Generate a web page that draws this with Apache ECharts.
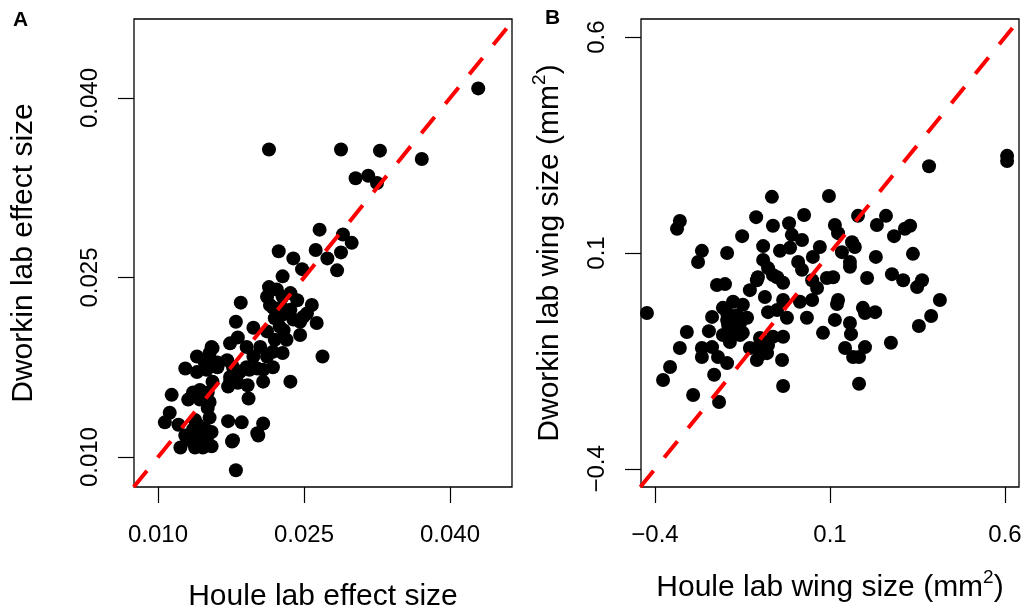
<!DOCTYPE html>
<html>
<head>
<meta charset="utf-8">
<script src="https://cdn.jsdelivr.net/npm/echarts@6/dist/echarts.min.js"></script>
<style>html,body{margin:0;padding:0;background:#fff}#c{width:1024px;height:608px}</style>
</head>
<body>
<div id="c"></div>
<script>
// Panel A: effect sizes
const houleA = [0.0429,0.0214,0.0288,0.0328,0.0371,0.0303,0.0316,0.0325,0.0266,0.0262,0.0274,0.0290,0.0299,0.0288,0.0284,0.0224,0.0239,0.0248,0.0228,0.0214,0.0212,0.0222,0.0228,0.0236,0.0243,0.0258,0.0215,0.0185,0.0180,0.0198,0.0212,0.0225,0.0239,0.0236,0.0263,0.0246,0.0253,0.0269,0.0182,0.0174,0.0156,0.0153,0.0140,0.0191,0.0205,0.0198,0.0212,0.0218,0.0228,0.0140,0.0150,0.0161,0.0177,0.0191,0.0202,0.0208,0.0218,0.0236,0.0208,0.0192,0.0182,0.0174,0.0156,0.0143,0.0136,0.0114,0.0131,0.0155,0.0171,0.0161,0.0184,0.0194,0.0174,0.0172,0.0151,0.0143,0.0153,0.0193,0.0112,0.0107,0.0121,0.0138,0.0153,0.0151,0.0172,0.0186,0.0208,0.0203,0.0136,0.0145,0.0133,0.0150,0.0123,0.0138,0.0146,0.0155,0.0177,0.0180,0.0176,0.0202,0.0141,0.0148,0.0128,0.0141,0.0155,0.0143,0.0148,0.0128,0.0220,0.0232,0.0228,0.0220,0.0218,0.0227,0.0249,0.0229,0.0246];
const dworkinA = [0.0408,0.0357,0.0357,0.0356,0.0349,0.0333,0.0335,0.0329,0.0290,0.0273,0.0266,0.0286,0.0279,0.0271,0.0256,0.0272,0.0266,0.0257,0.0251,0.0242,0.0234,0.0240,0.0234,0.0237,0.0231,0.0227,0.0227,0.0229,0.0213,0.0208,0.0205,0.0209,0.0215,0.0223,0.0212,0.0202,0.0220,0.0184,0.0200,0.0195,0.0191,0.0187,0.0184,0.0192,0.0192,0.0184,0.0184,0.0188,0.0187,0.0171,0.0173,0.0175,0.0175,0.0175,0.0174,0.0173,0.0175,0.0163,0.0163,0.0160,0.0162,0.0163,0.0163,0.0156,0.0154,0.0152,0.0148,0.0192,0.0181,0.0179,0.0171,0.0173,0.0167,0.0159,0.0154,0.0148,0.0146,0.0149,0.0137,0.0129,0.0127,0.0131,0.0133,0.0141,0.0130,0.0129,0.0128,0.0118,0.0123,0.0120,0.0114,0.0114,0.0108,0.0108,0.0108,0.0109,0.0114,0.0089,0.0113,0.0120,0.0127,0.0124,0.0118,0.0117,0.0121,0.0110,0.0179,0.0174,0.0198,0.0198,0.0219,0.0216,0.0225,0.0225,0.0217,0.0206,0.0213];

// Panel B: wing sizes (mm^2)
const houleB = [0.606,0.606,0.383,-0.066,0.097,-0.423,-0.329,-0.337,-0.111,-0.063,-0.017,0.026,-0.151,-0.091,-0.009,0.020,-0.043,-0.014,0.071,-0.266,-0.277,-0.194,-0.091,-0.077,-0.051,-0.034,0.009,0.020,0.051,0.049,0.063,-0.109,-0.129,-0.223,-0.200,0.091,0.180,0.260,0.234,0.114,0.123,0.283,0.314,0.329,0.163,0.171,0.134,0.157,0.157,0.231,0.337,0.109,0.206,0.277,0.309,0.363,0.349,0.123,0.414,0.120,0.194,0.200,0.229,0.389,0.354,0.114,0.157,0.160,0.080,0.143,0.166,0.183,0.200,0.274,0.183,-0.034,-0.177,-0.149,-0.206,-0.166,-0.137,-0.237,-0.191,-0.166,-0.206,-0.157,-0.186,-0.086,-0.077,-0.051,-0.023,0.034,-0.034,0.014,0.049,-0.309,-0.246,-0.329,-0.266,-0.237,-0.266,-0.220,-0.194,-0.100,-0.063,-0.034,-0.129,-0.106,-0.077,-0.100,-0.080,-0.109,-0.037,-0.357,-0.377,-0.231,-0.291,-0.217,-0.149,-0.194,-0.106,-0.063,-0.194,-0.157,-0.177];
const dworkinB = [0.325,0.313,0.301,0.230,0.232,-0.039,0.174,0.156,0.183,0.163,0.169,0.188,0.139,0.116,0.142,0.130,0.105,0.112,0.114,0.105,0.079,0.100,0.084,0.065,0.044,0.031,0.079,0.061,0.091,0.037,0.019,0.037,0.014,0.026,0.028,0.042,0.186,0.186,0.165,0.165,0.146,0.139,0.156,0.163,0.125,0.114,0.102,0.079,0.068,0.091,0.098,0.044,0.042,0.051,0.037,0.037,0.021,-0.009,-0.009,-0.018,-0.027,-0.039,-0.037,-0.046,-0.069,-0.055,-0.062,-0.088,-0.085,-0.120,-0.141,-0.141,-0.118,-0.108,-0.203,-0.208,-0.013,-0.020,-0.027,-0.044,-0.050,-0.048,-0.067,-0.074,-0.090,-0.090,-0.106,-0.002,-0.037,-0.032,-0.050,-0.050,-0.009,-0.013,-0.009,-0.083,-0.081,-0.120,-0.120,-0.118,-0.141,-0.141,-0.155,-0.097,-0.094,-0.094,-0.120,-0.118,-0.113,-0.136,-0.132,-0.148,-0.148,-0.164,-0.194,-0.182,-0.229,-0.245,-0.085,-0.039,0.044,0.049,-0.055,-0.062,-0.083];

// Tick values and labels
const ticksA = [0.010, 0.025, 0.040];
const ticksB = [-0.4, 0.1, 0.6];
// Identity (y = x) reference lines
const refLineA = [[0.0075, 0.0075], [0.05, 0.05]];
const refLineB = [[-0.442, -0.442], [0.7, 0.7]];

const FONT = "'Liberation Sans', Arial, Helvetica, sans-serif";
const zipPts = (xs, ys) => xs.map((x, i) => [x, ys[i]]);
const fmtA = v => v.toFixed(3);
const fmtB = v => v.toFixed(1).replace('-', '\u2212');

function xAxisDef(grid, min, max, ticks, fmt, name, gap, rich) {
  return {
    type: 'value', gridIndex: grid, min: min, max: max,
    splitLine: {show: false}, axisLine: {show: false, onZero: false},
    axisTick: {show: true, length: 16, customValues: ticks, lineStyle: {color: '#000', width: 1.2}},
    axisLabel: {customValues: ticks, formatter: fmt, margin: 36, fontSize: 24, color: '#000', fontFamily: FONT},
    name: name, nameLocation: 'middle', nameGap: gap,
    nameTextStyle: {fontSize: 30, color: '#000', fontFamily: FONT, rich: rich}
  };
}
function yAxisDef(grid, min, max, ticks, fmt, name, gap, rich) {
  return {
    type: 'value', gridIndex: grid, min: min, max: max,
    splitLine: {show: false}, axisLine: {show: false, onZero: false},
    axisTick: {show: true, length: 16, customValues: ticks, lineStyle: {color: '#000', width: 1.2}},
    axisLabel: {customValues: ticks, formatter: fmt, rotate: 90, margin: 32, fontSize: 24, color: '#000', fontFamily: FONT},
    name: name, nameLocation: 'middle', nameRotate: 90, nameGap: gap,
    nameTextStyle: {fontSize: 30, color: '#000', fontFamily: FONT, rich: rich}
  };
}
const supRich = {
  n: {fontSize: 30, color: '#000', fontFamily: FONT},
  sup: {fontSize: 19, color: '#000', fontFamily: FONT, verticalAlign: 'top', padding: [0, 0, 20, 0]}
};

const chart = echarts.init(document.getElementById('c'), null, {renderer: 'canvas'});
chart.setOption({
  animation: false,
  backgroundColor: '#fff',
  title: [
    {text: 'A', left: 13, top: 10, padding: 0, textStyle: {fontSize: 21, fontWeight: 'bold', color: '#000', fontFamily: FONT}},
    {text: 'B', left: 545, top: 8, padding: 0, textStyle: {fontSize: 21, fontWeight: 'bold', color: '#000', fontFamily: FONT}}
  ],
  grid: [
    {left: 134, top: 19, width: 378, height: 468, outerBoundsMode: 'none', containLabel: false, show: true, borderColor: '#000', borderWidth: 1.3, backgroundColor: 'transparent'},
    {left: 641, top: 19, width: 378, height: 468, outerBoundsMode: 'none', containLabel: false, show: true, borderColor: '#000', borderWidth: 1.3, backgroundColor: 'transparent'}
  ],
  xAxis: [
    xAxisDef(0, 0.00753, 0.04637, ticksA, fmtA, 'Houle lab effect size', 95),
    xAxisDef(1, -0.44, 0.64, ticksB, fmtB, '{n|Houle lab wing size (mm}{sup|2}{n|)}', 81, supRich)
  ],
  yAxis: [
    yAxisDef(0, 0.0075, 0.0466, ticksA, fmtA, 'Dworkin lab effect size', 95),
    yAxisDef(1, -0.442, 0.642, ticksB, fmtB, '{n|Dworkin lab wing size (mm}{sup|2}{n|)}', 72, supRich)
  ],
  series: [
    {type: 'scatter', xAxisIndex: 0, yAxisIndex: 0, data: zipPts(houleA, dworkinA), symbolSize: 14, itemStyle: {color: '#000', opacity: 1}, z: 2},
    {type: 'line', xAxisIndex: 0, yAxisIndex: 0, data: refLineA, symbol: 'none', clip: true, lineStyle: {color: '#ff0000', width: 4, type: [21, 17]}, z: 3},
    {type: 'scatter', xAxisIndex: 1, yAxisIndex: 1, data: zipPts(houleB, dworkinB), symbolSize: 14, itemStyle: {color: '#000', opacity: 1}, z: 2},
    {type: 'line', xAxisIndex: 1, yAxisIndex: 1, data: refLineB, symbol: 'none', clip: true, lineStyle: {color: '#ff0000', width: 4, type: [21, 17]}, z: 3}
  ]
});
</script>
</body>
</html>
